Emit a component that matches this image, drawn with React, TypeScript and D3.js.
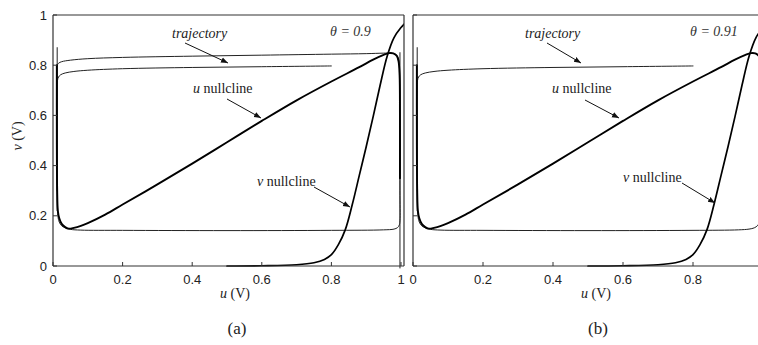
import React from "react";
import * as d3 from "d3";

// Axis ticks
const uTicks = [0, 0.2, 0.4, 0.6, 0.8, 1];
const vTicks = [0, 0.2, 0.4, 0.6, 0.8, 1];
const vTickLabels = ["0", "0.2", "0.4", "0.6", "0.8", "1"];
const uTickLabels = ["0", "0.2", "0.4", "0.6", "0.8", "1"];

// u nullcline (u, v)
const uNullU = [0.011, 0.011, 0.012, 0.014, 0.018, 0.025, 0.035, 0.045, 0.06, 0.08, 0.1, 0.15, 0.2, 0.3, 0.4, 0.5, 0.6, 0.7, 0.8, 0.88, 0.92, 0.95, 0.965, 0.978, 0.988, 0.993, 0.996, 0.997, 0.997];
const uNullV = [0.8, 0.5, 0.3, 0.22, 0.19, 0.168, 0.155, 0.149, 0.152, 0.16, 0.171, 0.205, 0.245, 0.325, 0.408, 0.493, 0.578, 0.66, 0.735, 0.792, 0.822, 0.841, 0.848, 0.847, 0.837, 0.815, 0.76, 0.6, 0.35];

// v nullcline (u, v)
const vNullU = [0.5, 0.6, 0.7, 0.75, 0.78, 0.8, 0.82, 0.84, 0.86, 0.88, 0.9, 0.92, 0.94, 0.96, 0.98, 1.0, 1.02];
const vNullV = [0.0, 0.001, 0.005, 0.013, 0.026, 0.045, 0.085, 0.145, 0.245, 0.36, 0.475, 0.595, 0.72, 0.835, 0.91, 0.95, 0.98];

// Transient trajectory starting at (0.8, 0.8)
const startU = [0.8, 0.6, 0.4, 0.2, 0.1, 0.06, 0.035, 0.022, 0.016, 0.013, 0.012, 0.012];
const startV = [0.797, 0.794, 0.791, 0.786, 0.78, 0.775, 0.769, 0.762, 0.753, 0.74, 0.7, 0.3];

// Limit cycle, theta = 0.9
const cycleU = [0.012, 0.016, 0.025, 0.05, 0.1, 0.2, 0.4, 0.6, 0.8, 0.9, 0.95, 0.97, 0.985, 0.992, 0.995, 0.997, 0.997, 0.997, 0.995, 0.99, 0.98, 0.95, 0.8, 0.5, 0.2, 0.08, 0.05, 0.035, 0.025, 0.018, 0.014, 0.012, 0.012];
const cycleV = [0.8, 0.808, 0.814, 0.82, 0.826, 0.831, 0.836, 0.84, 0.844, 0.846, 0.848, 0.848, 0.843, 0.83, 0.8, 0.7, 0.3, 0.18, 0.163, 0.153, 0.147, 0.144, 0.142, 0.141, 0.142, 0.143, 0.146, 0.152, 0.16, 0.175, 0.2, 0.3, 0.8];

// Escaping trajectory, theta = 0.91 (bottom branch)
const escU = [0.012, 0.014, 0.018, 0.025, 0.035, 0.05, 0.08, 0.2, 0.5, 0.8, 0.93, 0.96, 0.975, 0.985, 0.995];
const escV = [0.3, 0.2, 0.175, 0.16, 0.152, 0.146, 0.143, 0.142, 0.141, 0.142, 0.144, 0.147, 0.152, 0.162, 0.19];

// Vertical branches at the edges
const leftBranchU = [0.012, 0.012];
const leftBranchV = [0.87, 0.22];
const rightBranchU = [0.997, 0.997];
const rightBranchV = [0.85, -0.008];

const zip = (us: number[], vs: number[]) => us.map((u, i) => [u, vs[i]] as [number, number]);

const serif = "'Liberation Serif', 'Times New Roman', serif";
const sans = "'Liberation Sans', Arial, sans-serif";

type PanelProps = {
  id: string;
  x0: number;
  x1: number;
  frameRight: number;
  theta: string;
  letter: string;
  showYLabels: boolean;
  limitCycle: boolean;
  labels: {
    theta: [number, number];
    traj: [number, number];
    trajArrow: [number, number, number, number];
    uNull: [number, number];
    uArrow: [number, number, number, number];
    vNull: [number, number];
    vArrow: [number, number, number, number];
    uLabel: number;
  };
};

const y = d3.scaleLinear().domain([0, 1]).range([266, 15]);

function Panel(p: PanelProps) {
  const x = d3.scaleLinear().domain([0, 1]).range([p.x0, p.x1]);
  const line = d3
    .line<[number, number]>()
    .x((d) => x(d[0]))
    .y((d) => y(d[1]))
    .curve(d3.curveMonotoneY);
  const smooth = d3
    .line<[number, number]>()
    .x((d) => x(d[0]))
    .y((d) => y(d[1]))
    .curve(d3.curveCatmullRom.alpha(0.5));
  const top = y(1);
  const bottom = y(0);
  const clipId = `clip-${p.id}`;
  const L = p.labels;
  return (
    <g>
      <defs>
        <clipPath id={clipId}>
          <rect x={p.x0} y={top} width={p.frameRight - p.x0} height={bottom - top + 3} />
        </clipPath>
      </defs>
      <g clipPath={`url(#${clipId})`} fill="none" strokeLinejoin="round" strokeLinecap="round">
        <path d={line(zip(leftBranchU, leftBranchV)) || ""} stroke="#222" strokeWidth={1} />
        {p.limitCycle && (
          <>
            <path d={line(zip(rightBranchU, rightBranchV)) || ""} stroke="#222" strokeWidth={1} />
            <path d={smooth(zip(cycleU, cycleV)) || ""} stroke="#222" strokeWidth={1} />
          </>
        )}
        {!p.limitCycle && (
          <path d={smooth(zip(escU, escV)) || ""} stroke="#222" strokeWidth={1} />
        )}
        <path d={smooth(zip(startU, startV)) || ""} stroke="#222" strokeWidth={1} />
        <path d={smooth(zip(uNullU, uNullV)) || ""} stroke="#000" strokeWidth={1.9} />
        <path d={smooth(zip(vNullU, vNullV)) || ""} stroke="#000" strokeWidth={1.7} />
      </g>
      {/* frame */}
      <g stroke="#333" strokeWidth={1.2} fill="none">
        <line x1={p.x0} x2={p.frameRight} y1={top} y2={top} />
        <line x1={p.x0} x2={p.frameRight} y1={bottom} y2={bottom} />
        <line x1={p.x0} x2={p.x0} y1={top} y2={bottom} />
        <line x1={p.frameRight} x2={p.frameRight} y1={top} y2={bottom} />
      </g>
      {/* ticks */}
      <g stroke="#333" strokeWidth={1}>
        {vTicks.map((t) => (
          <line key={`yt${t}`} x1={p.x0} x2={p.x0 + 4} y1={y(t)} y2={y(t)} />
        ))}
        {uTicks.map((t) => (
          <line key={`xt${t}`} x1={x(t)} x2={x(t)} y1={bottom} y2={bottom - 4} />
        ))}
      </g>
      <g fontFamily={sans} fontSize={13} fill="#222">
        {p.showYLabels &&
          vTicks.map((t, i) => (
            <text key={`yl${t}`} x={p.x0 - 6} y={y(t) + 4.5} textAnchor="end">
              {vTickLabels[i]}
            </text>
          ))}
        {uTicks.map((t, i) => (
          <text key={`xl${t}`} x={x(t)} y={284} textAnchor="middle">
            {uTickLabels[i]}
          </text>
        ))}
      </g>
      {/* annotations */}
      <g fontFamily={serif} fontSize={14} fill="#222">
        <text x={L.theta[0]} y={L.theta[1]} fontStyle="italic" fill="#333">
          {p.theta}
        </text>
        <text x={L.traj[0]} y={L.traj[1]} fontStyle="italic">
          trajectory
        </text>
        <text x={L.uNull[0]} y={L.uNull[1]}>
          <tspan fontStyle="italic">u</tspan> nullcline
        </text>
        <text x={L.vNull[0]} y={L.vNull[1]}>
          <tspan fontStyle="italic">v</tspan> nullcline
        </text>
        <text x={L.uLabel} y={298} textAnchor="middle">
          <tspan fontStyle="italic">u</tspan> (V)
        </text>
        <text x={L.uLabel + 2} y={334} textAnchor="middle" fontSize={17}>
          {p.letter}
        </text>
      </g>
      <g stroke="#111" strokeWidth={1} markerEnd="url(#arrowHead)">
        {[L.trajArrow, L.uArrow, L.vArrow].map((a, i) => (
          <line key={`ar${i}`} x1={a[0]} y1={a[1]} x2={a[2]} y2={a[3]} />
        ))}
      </g>
    </g>
  );
}

export default function App() {
  return (
    <svg
      width={758}
      height={345}
      style={{ position: "absolute", left: 0, top: 0, background: "#fff" }}
    >
      <defs>
        <marker
          id="arrowHead"
          viewBox="0 0 10 10"
          refX={10}
          refY={5}
          markerWidth={7}
          markerHeight={7}
          markerUnits="userSpaceOnUse"
          orient="auto"
        >
          <path d="M0,1 L10,5 L0,9 z" fill="#111" />
        </marker>
      </defs>
      <rect width={758} height={345} fill="#fff" />
      <Panel
        id="a"
        x0={53}
        x1={401}
        frameRight={404}
        theta="θ = 0.9"
        letter="(a)"
        showYLabels={true}
        limitCycle={true}
        labels={{
          theta: [330, 36],
          traj: [172, 38],
          trajArrow: [185, 43, 228, 63],
          uNull: [193, 93],
          uArrow: [227, 99, 261, 118],
          vNull: [257, 186],
          vArrow: [314, 187, 350, 207],
          uLabel: 235,
        }}
      />
      <Panel
        id="b"
        x0={413}
        x1={763}
        frameRight={770}
        theta="θ = 0.91"
        letter="(b)"
        showYLabels={false}
        limitCycle={false}
        labels={{
          theta: [690, 36],
          traj: [525, 38],
          trajArrow: [547, 43, 581, 63],
          uNull: [552, 93],
          uArrow: [585, 100, 619, 118],
          vNull: [623, 182],
          vArrow: [682, 183, 715, 203],
          uLabel: 596,
        }}
      />
      <text
        transform="translate(22,136) rotate(-90)"
        textAnchor="middle"
        fontFamily={serif}
        fontSize={14}
        fill="#222"
      >
        <tspan fontStyle="italic">v</tspan> (V)
      </text>
    </svg>
  );
}
